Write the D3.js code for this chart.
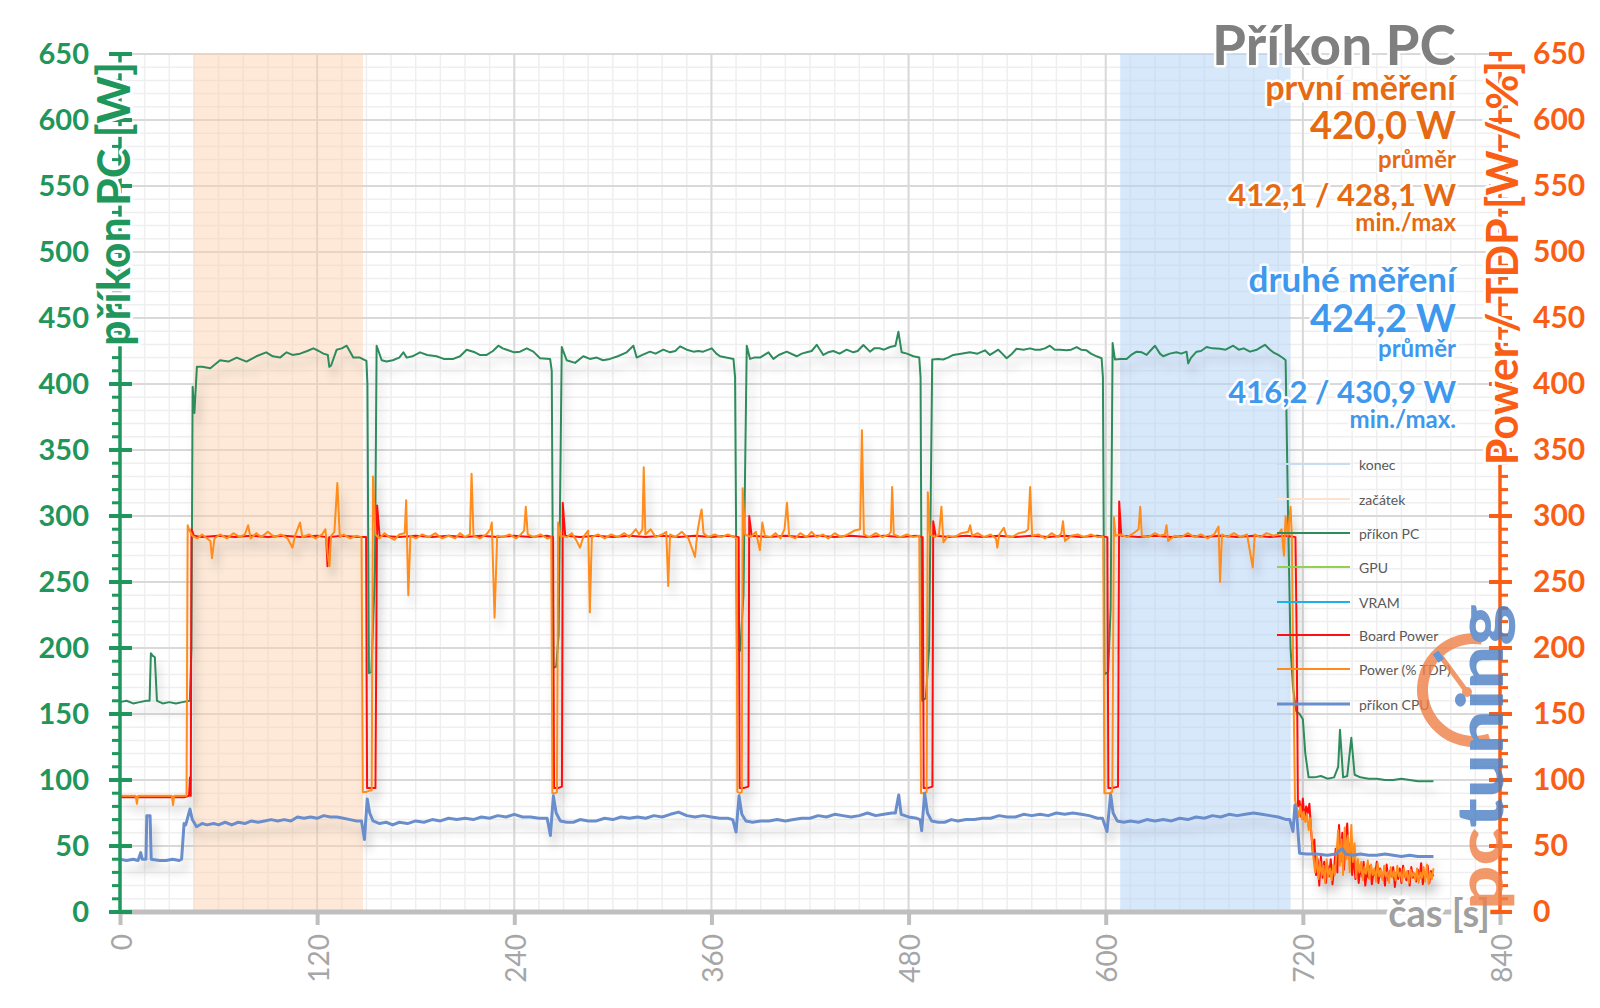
<!DOCTYPE html>
<html><head><meta charset="utf-8">
<script src="https://cdn.jsdelivr.net/npm/d3@7"></script>
<style>
body{margin:0;background:#fff;}
svg{display:block;}
text{font-family:Lato,"Open Sans",sans-serif;}
</style>
</head><body>
<svg id="c" width="1600" height="1008"></svg>
<script>
// ---------------- DATA ----------------
const xTickValues = [0,120,240,360,480,600,720,840];
const yTickValues = [0,50,100,150,200,250,300,350,400,450,500,550,600,650];
const startBand = [44.8, 147.9];   // "začátek"
const endBand   = [608.8, 712.5];  // "konec"

const legendNames  = ["konec","začátek","příkon PC","GPU","VRAM","Board Power","Power (% TDP)","příkon CPU"];
const legendColors = ["#c9dcf3","#fde3cf","#2e8b5c","#92d050","#1cb0ec","#ff1010","#ff8c1a","#6a8ecc"];

const titleLines = [
  {t:"Příkon PC", c:"#7f7f7f", s:55, y:65},
  {t:"první měření", c:"#e66a12", s:34, y:100},
  {t:"420,0 W", c:"#e66a12", s:38, y:139},
  {t:"průměr", c:"#e66a12", s:24, y:168},
  {t:"412,1 / 428,1 W", c:"#e66a12", s:31, y:206},
  {t:"min./max", c:"#e66a12", s:24, y:231},
  {t:"druhé měření", c:"#3d98ee", s:35, y:292},
  {t:"424,2 W", c:"#3d98ee", s:38, y:332},
  {t:"průměr", c:"#3d98ee", s:24, y:357},
  {t:"416,2 / 430,9 W", c:"#3d98ee", s:31, y:403},
  {t:"min./max.", c:"#3d98ee", s:24, y:428}
];

const gpuPower = [];
const vramPower = [];

const pcPower = [[0,159],[4,160],[8,158],[12,159],[16,160],[18,160],[18.8,196],[20,194],[21.2,193],[22.5,160],[26,158],[30,159],[34,158],[38,159],[42.5,160],[43.5,200],[44.2,398],[45.3,378],[46.8,413],[50,413],[55,412],[60.9,418],[66,417],[71,420],[77,417],[83,421],[89,424],[93,421],[97.4,420],[101.4,424],[105,422],[109.6,423],[114,425],[117.7,427],[121,425],[123.8,423],[126.5,422],[127.4,413],[128.5,414],[131.9,426],[135,427],[138,429],[142,420],[146,420],[150,417.5],[150.6,400],[151.5,181],[153,182],[154,215],[155.2,260],[156.2,429],[159.3,418],[162.3,417],[166,418],[170,420],[172.5,424],[174.5,420],[178,421],[182.6,424],[187,422],[192.7,421],[197,419],[202.9,419],[207,421],[211,426],[216,424],[219,422],[223.2,422],[227,425],[230.3,429],[233,427],[235.4,426],[240,424],[243.5,424.5],[247.6,427],[251.6,424.5],[255.7,419.5],[261.8,419],[262.8,410],[263.8,185],[265.5,186],[267,210],[268.9,428],[271.9,418],[277,416],[282,421],[286,419],[290.2,420],[294,418],[298.3,419],[303,421],[308.4,424],[312.5,429],[314.5,420],[318,422],[322.6,424.5],[326,423],[330.7,426],[334.8,424],[338,425],[340.9,428.5],[345,426],[349,424.5],[352,425],[355,424.5],[360.2,427],[363,423],[365.2,421],[369,420],[373.4,419],[374.4,405],[375.5,200],[377.5,198],[379.5,240],[381.5,429],[383.5,419],[386,420],[389.6,420],[394.7,424],[397.7,419],[401,422],[405.8,424.5],[411.9,421],[415,423],[418,424],[421,425],[424.1,429.7],[428.1,422],[431,424],[434.2,425],[438,423],[442.3,426],[446.4,424],[449,425],[452.5,429.5],[456.5,424.5],[459,427],[462.6,427],[465,426],[468.7,428],[472,429],[473.8,439.6],[475.8,424],[479,423],[482.9,421],[486.5,420],[487.3,405],[488.2,160],[490.5,162],[492.5,200],[494.4,418.6],[498,419],[501.1,418.6],[504,420],[507.2,422],[512,423],[517.3,424],[522,423],[526.5,425.5],[529.5,422],[532,424],[534.6,426],[537,423],[539.7,419.5],[543,423],[545.7,426.7],[550,426],[553.9,427],[557,426],[560,426],[563,427],[566,429],[569,426],[572.1,426],[576.2,425.5],[579,426],[582.3,428],[585,426],[588.3,425.5],[591,423],[594.4,421],[597.5,419.5],[598.3,405],[599.2,180],[601.5,182],[603,230],[604.2,431],[605.6,418.6],[609,419],[612.7,419],[615.5,422],[618.8,424.5],[622,424],[624.9,422],[627,425],[630,429],[633,423],[635,421],[639,423],[643.1,424],[646,423],[649.2,424.5],[650.2,415.6],[652,420],[655.3,424.5],[658,425],[661.4,428],[665,427],[669.5,426.7],[673,426],[677.6,429],[681,426],[684,427],[687.8,424.5],[692,426],[696.9,429.7],[700,426],[702,424],[705,422],[708.1,419.5],[709.5,418],[711,300],[712.5,200],[714,170],[716,152],[718,150],[720,146],[721.5,120],[723.5,102],[727,102],[731,103],[735,101],[739,102],[741.5,110],[742.6,138],[744.5,102],[747,103],[749.5,132],[751.5,104],[755,102],[760,101],[765,101],[770,100],[775,100],[780,101],[785,100],[790,99],[795,99],[799.5,99]];

const cpuPower = [[0,40],[4,39],[8,40],[11,39],[12.6,45],[13.5,40],[15.8,40],[16.3,73],[18.3,73],[19,40],[24,39],[28,39],[32,40],[36,39],[37.5,40],[39,67],[40,66],[42.6,78],[44,70],[46.6,64.6],[50,67],[53,66],[57,67],[60,66],[64,68],[68,66],[72,68],[76,67],[80,69],[84,68],[88,69],[92,70],[96,69],[100,70],[104,69],[108,72],[112,71],[116,72],[120,71],[124,73],[128,72],[132,72],[136,71],[140,70],[144,69],[147,69],[148.8,55],[150.5,85.6],[152,75],[154,69],[158,67],[162,68],[166,66],[170,68],[175,67],[180,69],[185,68],[190,70],[195,69],[200,71],[205,70],[210,71],[215,70],[220,72],[225,71],[230,73],[235,72],[240,74],[245,72],[250,72],[255,71],[260,71],[262,58],[263.8,88],[265.5,75],[268,69],[272,68],[276,68],[280,70],[285,69],[290,69],[295,71],[300,70],[305,72],[310,71],[315,72],[320,71],[325,73],[330,72],[335,74],[340,75.7],[345,73],[350,72],[355,73],[360,72],[365,71],[370,71],[373,70],[375,60.6],[376.8,88],[378.5,74],[381,69],[385,68],[390,69],[395,69],[400,70],[405,69],[410,70],[415,71],[420,71],[425,73],[430,72],[435,74],[440,73],[445,72],[450,73],[455,75],[460,73],[465,74],[470,75],[472,75],[474,88.6],[475.5,74],[480,72],[485,71],[487,70],[488,61.6],[489.8,90],[491.5,75],[494,69],[498,68],[502,68],[506,70],[510,69],[515,70],[520,70],[525,71],[530,71],[535,73],[540,72],[545,72],[550,74],[555,73],[560,74],[565,73],[570,75],[575,74],[580,75],[585,74],[590,73],[595,71],[598,71],[600.8,61],[603,89],[604.5,75],[607,69],[611,68],[615,69],[620,68],[625,70],[630,69],[635,70],[640,69],[645,71],[650,70],[655,72],[660,71],[665,73],[670,72],[675,74],[680,73],[685,74],[690,75],[695,74],[700,73],[705,72],[710,70],[712,70],[714,61],[715.2,81],[716.5,70],[718,44.5],[722,44],[728,44],[735,43],[740,44],[744,48],[746,44],[750,43],[755,44],[760,43],[765,43],[770,44],[775,43],[780,42],[785,43],[790,42],[795,42],[799.5,42]];

const boardPower = [[0,87],[10,87],[20,87],[30,87],[39,87],[42,88],[42.6,102],[43.1,88],[43.5,290],[45,285],[50,284],[60,285],[70,284],[80,285],[90,284],[100,285],[110,284],[120,285],[125.5,284],[126.3,262],[127.3,284],[135,285],[145,284],[149.8,284],[150.4,94],[153,94],[155.5,94],[156.5,308],[158,285],[170,284],[180,285],[190,284],[200,285],[210,284],[220,285],[230,284],[240,285],[250,284],[260,285],[263.6,284],[264.2,94],[267,94],[269,95],[269.5,310],[271,285],[280,284],[290,285],[300,284],[310,285],[320,284],[330,285],[340,284],[350,285],[360,284],[370,285],[376.6,284],[377.2,94],[380,94],[382.5,95],[383,300],[384.5,285],[395,284],[405,285],[415,284],[425,285],[435,284],[445,285],[455,284],[465,285],[475,284],[485,285],[488.6,284],[489.2,94],[492,94],[494.5,95],[495,296],[496.5,285],[505,284],[515,285],[525,284],[535,285],[545,284],[555,285],[565,284],[575,285],[585,284],[595,285],[601,284],[601.6,94],[604,94],[607.5,95],[608.2,311],[609.5,285],[620,284],[630,285],[640,284],[650,285],[660,284],[670,285],[680,284],[690,285],[700,284],[710,285],[715.5,284],[716.3,200],[717,80],[718,84],[719,72],[720,86],[721,70],[722,80],[723,75],[724,82],[725,62],[726,45],[727,55],[728,28],[729,40],[730,20],[731,42],[732,26],[733,38],[734,22],[735,35],[736,27],[737,40],[738,21],[739,32],[740,48],[741,30],[742,66],[743,38],[744,60],[745,32],[746,55],[747,67],[748,40],[749,52],[750,28],[751,44],[752,25],[753,36],[754,22],[755,34],[756,27],[757,38],[758,20],[759,31],[760,26],[761,35],[762,21],[763,30],[764,28],[765,38],[766,22],[767,33],[768,26],[769,29],[770,20],[771,36],[772,24],[773,31],[774,27],[775,34],[776,19],[777,30],[778,25],[779,33],[780,22],[781,35],[782,28],[783,24],[784,31],[785,20],[786,34],[787,26],[788,29],[789,23],[790,32],[791,25],[792,37],[793,21],[794,30],[795,27],[796,35],[797,22],[798,31],[799.5,27]];

const tdpPercent = [[0,88],[5,88],[9.5,88],[10.3,82],[11,88],[16,88],[22,88],[28,88],[31.5,88],[32.3,81],[33,88],[37,88],[40.5,88],[41.2,293],[42,290],[44,285],[47,283],[50,286],[53,283],[55,281],[56,268],[57.5,283],[61,286],[65,283],[69,287],[73,284],[76,286],[78,293],[79.5,283],[83,287],[86,284],[90,288],[94,284],[98,286],[102,283],[105,276],[106.5,285],[109.6,295],[111,284],[115,286],[119,283],[123,286],[125,290],[126.5,270],[127.5,262],[128.5,285],[130.5,288],[132.3,325],[133.8,284],[136,286],[140,283],[144,285],[147,284],[147.8,91],[150,91],[152,92],[153.2,92],[154,330],[155.5,286],[158,283],[161,287],[164,284],[167,282],[170,286],[173.3,287],[174.2,312],[175.5,240],[176.8,285],[180,283],[184,286],[188,284],[192,287],[196,283],[200,285],[204,283],[207,287],[210,284],[213,286],[214,332],[215.2,285],[219,283],[223,286],[225.5,290],[226.3,295],[228,223],[229.6,285],[233,284],[237,286],[241,283],[244,286],[246,289],[247,307],[248.2,286],[252,284],[256,286],[260,283],[262.5,284],[263.2,90],[265,90],[266,91],[266.7,295],[268,285],[272,284],[275,287],[278,281],[280,276],[282,284],[285,289],[286,227],[287.2,284],[291,286],[295,283],[299,286],[303,284],[307,287],[310,284],[314,290],[316,286],[318,290],[318.8,337],[319.8,286],[323,290],[326,284],[330,286],[332.5,288],[333.7,247],[334.8,286],[338,284],[342,288],[346,283],[350,269],[351.5,288],[353,299],[354,305],[355.2,287],[358,284],[362,286],[366,284],[370,286],[374,284],[375.3,283],[375.8,91],[377.5,90],[378.5,91],[379,321],[380.5,286],[384,284],[387,288],[389.5,274],[391,295],[392.5,285],[396,284],[399,287],[402,283],[404.5,290],[406,310],[407.3,285],[411,283],[414,287],[418,284],[421,288],[424,284],[428,286],[431,283],[435,287],[439,284],[443,286],[447,289],[450.5,290],[451.6,365],[452.8,286],[456,284],[460,287],[464,284],[468,286],[469.2,288],[470,322],[471,286],[475,284],[479,286],[483,284],[486.5,285],[487.6,90],[489.5,90],[491,91],[491.7,318],[493,286],[496,284],[498.5,286],[500,307],[501.2,280],[504,285],[508,284],[512,287],[516.3,288],[517.5,293],[518.7,285],[522,287],[526,284],[530,286],[533.2,283],[534,276],[535.2,286],[538,291],[539.5,285],[543,284],[547,287],[551,288],[552.8,290],[554,322],[555.2,285],[559,286],[563,283],[567,287],[571,284],[573,287],[574,296],[575.2,281],[579,285],[583,286],[587,284],[591,286],[595,284],[598.5,284],[599.2,90],[602,90],[604,91],[605,299],[606,285],[609,286],[613,284],[617,287],[620,290],[621,307],[622,285],[626,284],[630,287],[633,285],[636,286],[637,293],[638,281],[642,285],[646,284],[650,287],[654,284],[658,286],[662,283],[666,286],[668.7,292],[669.6,250],[670.8,286],[674,284],[678,287],[682,284],[686,286],[689.5,261],[690.7,286],[694,284],[698,287],[702,285],[705,286],[707,290],[708.5,270],[709.5,300],[710.8,285],[712.5,307],[713.3,284],[714,200],[715.2,85],[716.5,78],[717.5,72],[718.5,80],[719.5,70],[720.5,76],[721.5,68],[722.5,74],[723.5,62],[724.5,71],[725.5,55],[726.5,40],[727.5,30],[728.5,42],[729.5,25],[730.5,38],[731.5,28],[732.5,35],[733.5,22],[734.5,40],[735.5,27],[736.5,33],[737.5,24],[738.5,36],[739.5,28],[740.5,45],[741.5,62],[742.5,35],[743.5,55],[744.5,28],[745.5,64],[746.5,40],[747.5,58],[748.5,30],[749.5,66],[750.5,38],[751.5,52],[752.5,26],[753.5,40],[754.5,30],[755.5,38],[756.5,24],[757.5,34],[758.5,29],[759.5,39],[760.5,25],[761.5,36],[762.5,28],[763.5,33],[764.5,23],[765.5,37],[766.5,27],[767.5,32],[768.5,24],[769.5,35],[770.5,27],[771.5,30],[772.5,22],[773.5,34],[774.5,26],[775.5,31],[776.5,24],[777.5,35],[778.5,27],[779.5,30],[780.5,23],[781.5,33],[782.5,26],[783.5,31],[784.5,22],[785.5,32],[786.5,27],[787.5,30],[788.5,24],[789.5,33],[790.5,22],[791.5,30],[792.5,26],[793.5,34],[794.5,23],[795.5,36],[796.5,21],[797.5,30],[798.5,25],[799.5,33]];

// ---------------- CHART ----------------
const svg = d3.select("#c");
const X0 = 120, X1 = 1500, Y0 = 912, Y1 = 54;
const x = d3.scaleLinear().domain([0,840]).range([X0,X1]);
const y = d3.scaleLinear().domain([0,650]).range([Y0,Y1]);
const yR = d3.scaleLinear().domain([0,650]).range([Y0,Y1]);
const GREEN = "#1f965c", RORANGE = "#fa5e14", GRAY = "#a6a6a6";

const defs = svg.append("defs");
const f = defs.append("filter").attr("id","sh").attr("filterUnits","userSpaceOnUse")
  .attr("x",0).attr("y",0).attr("width",1600).attr("height",1008);
f.append("feGaussianBlur").attr("in","SourceAlpha").attr("stdDeviation",5).attr("result","b");
f.append("feOffset").attr("in","b").attr("dx",4).attr("dy",10).attr("result","o");
f.append("feFlood").attr("flood-color","#000").attr("flood-opacity",0.2).attr("result","fl");
f.append("feComposite").attr("in","fl").attr("in2","o").attr("operator","in").attr("result","s");
const fm = f.append("feMerge");
fm.append("feMergeNode").attr("in","s");
fm.append("feMergeNode").attr("in","SourceGraphic");

// grid
const grid = svg.append("g");
grid.selectAll(".vmin").data(d3.range(0,841,15)).join("line")
  .attr("x1",d=>x(d)).attr("x2",d=>x(d)).attr("y1",Y1).attr("y2",Y0)
  .attr("stroke","#efefef").attr("stroke-width",1.5);
grid.selectAll(".hmin").data(d3.range(0,651,10)).join("line")
  .attr("x1",X0).attr("x2",X1).attr("y1",d=>y(d)).attr("y2",d=>y(d))
  .attr("stroke","#efefef").attr("stroke-width",1.5);
grid.selectAll(".vmaj").data(xTickValues).join("line")
  .attr("x1",d=>x(d)).attr("x2",d=>x(d)).attr("y1",Y1).attr("y2",Y0)
  .attr("stroke","#d9d9d9").attr("stroke-width",2);
grid.selectAll(".hmaj").data(yTickValues).join("line")
  .attr("x1",X0).attr("x2",X1).attr("y1",d=>y(d)).attr("y2",d=>y(d))
  .attr("stroke","#d9d9d9").attr("stroke-width",2);

// bands
svg.append("rect").attr("x",x(startBand[0])).attr("width",x(startBand[1])-x(startBand[0]))
  .attr("y",Y1).attr("height",Y0-Y1).attr("fill","rgba(252,206,168,0.45)");
svg.append("rect").attr("x",x(endBand[0])).attr("width",x(endBand[1])-x(endBand[0]))
  .attr("y",Y1).attr("height",Y0-Y1).attr("fill","rgba(178,210,248,0.5)");

// series
const line = d3.line().x(d=>x(d[0])).y(d=>y(d[1]));
const lineR = d3.line().x(d=>x(d[0])).y(d=>yR(d[1]));
const sg = svg.append("g").attr("filter","url(#sh)");
sg.append("path").attr("d",line(pcPower)).attr("fill","none").attr("stroke",legendColors[2]).attr("stroke-width",2).attr("stroke-linejoin","round");
if (gpuPower.length) sg.append("path").attr("d",lineR(gpuPower)).attr("fill","none").attr("stroke",legendColors[3]).attr("stroke-width",2);
if (vramPower.length) sg.append("path").attr("d",lineR(vramPower)).attr("fill","none").attr("stroke",legendColors[4]).attr("stroke-width",2);
sg.append("path").attr("d",lineR(boardPower)).attr("fill","none").attr("stroke",legendColors[5]).attr("stroke-width",2).attr("stroke-linejoin","round");
sg.append("path").attr("d",lineR(tdpPercent)).attr("fill","none").attr("stroke",legendColors[6]).attr("stroke-width",2).attr("stroke-linejoin","round");
sg.append("path").attr("d",line(cpuPower)).attr("fill","none").attr("stroke",legendColors[7]).attr("stroke-width",3).attr("stroke-linejoin","round");

// x axis
svg.append("line").attr("x1",X0).attr("x2",X1).attr("y1",Y0).attr("y2",Y0).attr("stroke","#bfbfbf").attr("stroke-width",5);
const xa = svg.append("g").attr("transform",`translate(0,${Y0})`)
  .call(d3.axisBottom(x).tickValues(xTickValues).tickSize(0).tickFormat(d3.format("d")));
xa.select(".domain").remove();
xa.selectAll(".tick line").remove();
xa.selectAll(".tick").append("line").attr("y1",0).attr("y2",13).attr("stroke","#bfbfbf").attr("stroke-width",4);
xa.selectAll(".tick text").attr("transform","translate(0,22) rotate(-90)").attr("x",0).attr("y",0).attr("dy",null)
  .attr("text-anchor","end").attr("dominant-baseline","central")
  .attr("font-family","Lato").attr("font-size",28).attr("fill",GRAY);

// left axis
const minorVals = d3.range(0,651,10).filter(v=>v%50!==0);
svg.append("line").attr("x1",X0).attr("x2",X0).attr("y1",Y1).attr("y2",Y0+2).attr("stroke",GREEN).attr("stroke-width",3.5);
svg.selectAll(".lmin").data(minorVals).join("line").attr("x1",112).attr("x2",X0).attr("y1",d=>y(d)).attr("y2",d=>y(d)).attr("stroke",GREEN).attr("stroke-width",3);
svg.selectAll(".lmaj").data(yTickValues).join("line").attr("x1",109).attr("x2",132).attr("y1",d=>y(d)).attr("y2",d=>y(d)).attr("stroke",GREEN).attr("stroke-width",4);
const la = svg.append("g").attr("transform","translate(89,0)")
  .call(d3.axisLeft(y).tickValues(yTickValues).tickSize(0).tickPadding(0));
la.select(".domain").remove();
la.selectAll(".tick text").attr("font-family","Lato").attr("font-weight",700).attr("font-size",29).attr("fill",GREEN)
  .attr("stroke","#fff").attr("stroke-width",4).attr("paint-order","stroke").attr("stroke-linejoin","round");

// right axis
svg.append("line").attr("x1",X1).attr("x2",X1).attr("y1",Y1).attr("y2",Y0+2).attr("stroke",RORANGE).attr("stroke-width",3.5);
svg.selectAll(".rmin").data(minorVals).join("line").attr("x1",X1).attr("x2",1508).attr("y1",d=>yR(d)).attr("y2",d=>yR(d)).attr("stroke",RORANGE).attr("stroke-width",3);
svg.selectAll(".rmaj").data(yTickValues).join("line").attr("x1",1489).attr("x2",1512).attr("y1",d=>yR(d)).attr("y2",d=>yR(d)).attr("stroke",RORANGE).attr("stroke-width",4);
const ra = svg.append("g").attr("transform","translate(1533,0)")
  .call(d3.axisRight(yR).tickValues(yTickValues).tickSize(0).tickPadding(0));
ra.select(".domain").remove();
ra.selectAll(".tick text").attr("font-family","Lato").attr("font-weight",700).attr("font-size",30).attr("fill",RORANGE)
  .attr("stroke","#fff").attr("stroke-width",4).attr("paint-order","stroke").attr("stroke-linejoin","round");

function glow(sel, w){ return sel.attr("stroke","#fff").attr("stroke-width",w).attr("paint-order","stroke").attr("stroke-linejoin","round"); }

// axis titles
glow(svg.append("text").attr("transform","translate(130,62) rotate(-90)").attr("text-anchor","end")
  .attr("font-weight",700).attr("font-size",45).attr("fill",GREEN).text("příkon PC [W]"), 6);
glow(svg.append("text").attr("transform","translate(1518,61) rotate(-90)").attr("text-anchor","end")
  .attr("font-weight",700).attr("font-size",43).attr("fill",RORANGE).text("Power / TDP [W / %]"), 6);
glow(svg.append("text").attr("x",1490).attr("y",912).attr("dominant-baseline","central").attr("text-anchor","end")
  .attr("font-weight",700).attr("font-size",38).attr("fill","#a0a0a0").text("čas [s]"), 7);

// title block
svg.selectAll(".ttl").data(titleLines).join("text")
  .attr("x",1456).attr("y",d=>d.y).attr("text-anchor","end")
  .attr("font-weight",700).attr("font-size",d=>d.s).attr("fill",d=>d.c)
  .attr("stroke","#fff").attr("stroke-width",5).attr("paint-order","stroke").attr("stroke-linejoin","round")
  .text(d=>d.t);

// legend
const legY = [464,499,533,567,602,635,669,704];
const lg = svg.append("g");
lg.selectAll("line").data(legendNames).join("line")
  .attr("x1",1277).attr("x2",1350).attr("y1",(d,i)=>legY[i]).attr("y2",(d,i)=>legY[i])
  .attr("stroke",(d,i)=>legendColors[i]).attr("stroke-width",(d,i)=>i===7?3:2);
lg.selectAll("text").data(legendNames).join("text")
  .attr("x",1359).attr("y",(d,i)=>legY[i]).attr("dominant-baseline","central")
  .attr("font-size",14).attr("fill","#595959").text(d=>d);

// watermark logo
const logo = svg.append("g").attr("opacity",0.8);
logo.append("path").attr("transform","translate(1474,690)")
  .attr("d",d3.arc()({innerRadius:46,outerRadius:57,startAngle:Math.PI*0.9,endAngle:Math.PI*2.05}))
  .attr("fill","#f08048");
logo.append("line").attr("x1",1467).attr("y1",692).attr("x2",1442).attr("y2",658).attr("stroke","#f08048").attr("stroke-width",5).attr("stroke-linecap","round");
logo.append("circle").attr("cx",1467).attr("cy",692).attr("r",5).attr("fill","#f08048");
logo.append("rect").attr("x",1435).attr("y",652).attr("width",7).attr("height",10).attr("fill","#3f7fd0").attr("transform","rotate(-35,1438,657)");
const lt = logo.append("text").attr("transform","translate(1503,910) rotate(-90)")
  .attr("font-weight",900).attr("font-size",64).attr("textLength",306).attr("lengthAdjust","spacingAndGlyphs");
lt.append("tspan").attr("fill","#f08048").text("pc");
lt.append("tspan").attr("fill","#4a7fc4").text("tuning");
</script>
</body></html>
